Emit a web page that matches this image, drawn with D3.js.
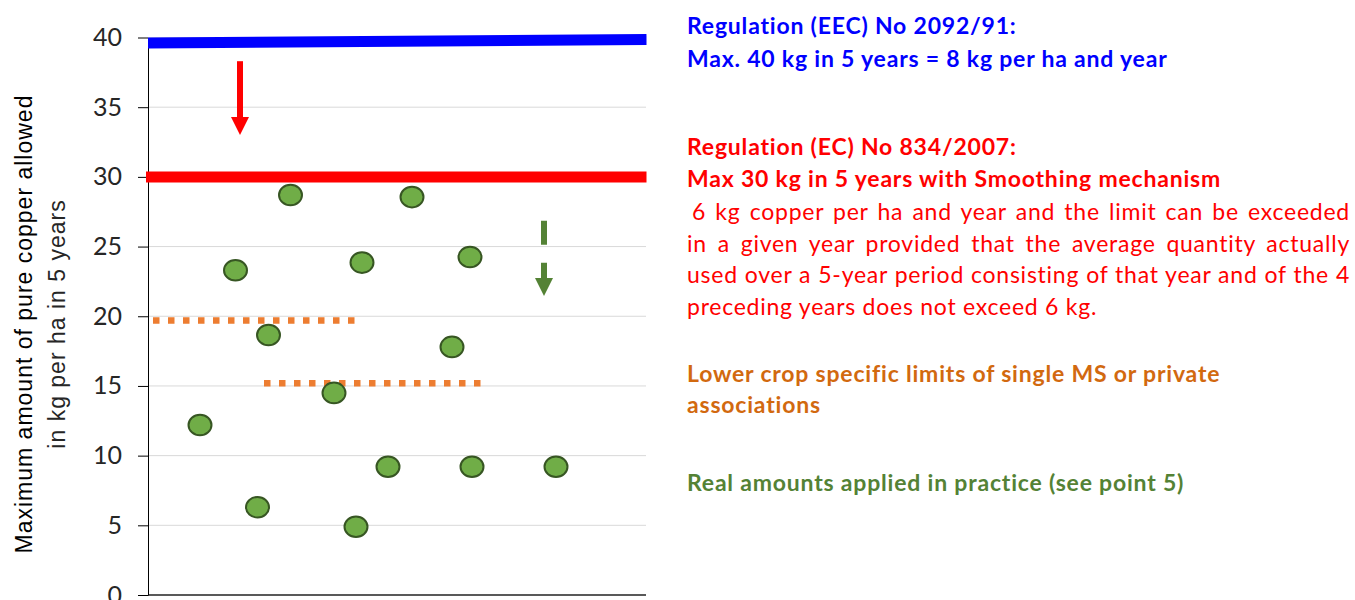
<!DOCTYPE html>
<html>
<head>
<meta charset="utf-8">
<script src="https://cdn.jsdelivr.net/npm/d3@7"></script>
<style>
  body { margin: 0; background: #fff; }
  svg { display: block; }
</style>
</head>
<body>
<div id="chart"></div>
<script>
// values
var yTicks = [0, 5, 10, 15, 20, 25, 30, 35, 40];
var pointX = [1.04, 1.75, 2.19, 2.41, 2.85, 3.72, 4.16, 4.28, 4.80, 5.28, 6.08, 6.44, 6.48, 8.16];
var pointY = [12.2, 23.3, 6.3, 18.65, 28.7, 14.5, 4.9, 23.85, 9.2, 28.55, 17.8, 24.25, 9.2, 9.2];
var euLimit1991 = [[0, 39.6], [9.97, 39.85]];
var euLimit2007 = [[-0.04, 30], [9.97, 30]];
var cropLimitA = [[0.1, 19.7], [4.14, 19.7]];
var cropLimitB = [[2.32, 15.2], [6.74, 15.2]];
var redArrow = [1.84, 38.3, 33.0];
var greenArrow = [7.92, 26.85, 21.45];

var yTitle = ["Maximum amount of pure copper allowed", "in kg per ha in 5 years"];
var notes = [
  {lines: ["Regulation (EEC) No 2092/91:", "Max. 40 kg in 5 years = 8 kg per ha and year"], color: "#0000ff", bold: true},
  {lines: ["Regulation (EC) No 834/2007:", "Max 30 kg in 5 years with Smoothing mechanism"], color: "#ff0000", bold: true},
  {lines: [" 6 kg copper per ha and year and the limit can be exceeded",
           "in a given year provided that the average quantity actually",
           "used over a 5-year period consisting of that year and of the 4",
           "preceding years does not exceed 6 kg."], color: "#ff0000", bold: false, justify: true},
  {lines: ["Lower crop specific limits of single MS or private", "associations"], color: "#d2690f", bold: true},
  {lines: ["Real amounts applied in practice (see point 5)"], color: "#548235", bold: true}
];

var W = 1355, H = 600;
var mLeft = 148, mRight = 648, mTop = 37.5, mBottom = 595;

var x = d3.scaleLinear().domain([0, 10]).range([mLeft, mRight]);
var y = d3.scaleLinear().domain([0, 40]).range([mBottom, mTop]);

var svg = d3.select("#chart").append("svg")
  .attr("width", W)
  .attr("height", H);

// grid
svg.append("g")
  .selectAll("line")
  .data(yTicks.filter(function(d) { return d > 0; }))
  .enter().append("line")
  .attr("x1", mLeft).attr("x2", 646)
  .attr("y1", function(d) { return y(d); })
  .attr("y2", function(d) { return y(d); })
  .attr("stroke", "#d9d9d9")
  .attr("stroke-width", 1);

// bottom line
svg.append("line")
  .attr("x1", mLeft).attr("x2", 646)
  .attr("y1", y(0)).attr("y2", y(0))
  .attr("stroke", "#595959")
  .attr("stroke-width", 2);

var yAxis = d3.axisLeft(y).tickValues(yTicks).tickSize(10).tickPadding(16).tickSizeOuter(0);
var ax = svg.append("g")
  .attr("transform", "translate(" + mLeft + ",0)")
  .call(yAxis);
ax.select(".domain").attr("stroke", "#000");
ax.selectAll(".tick line").attr("stroke", "#000");
ax.selectAll(".tick text")
  .attr("font-family", "Lato, sans-serif")
  .attr("font-size", 25)
  .attr("fill", "#262626");

// axis title
var title = svg.append("g")
  .attr("transform", "translate(0,324) rotate(-90)");
title.selectAll("text")
  .data(yTitle)
  .enter().append("text")
  .attr("x", 0)
  .attr("y", function(d, i) { return 32 + i * 33; })
  .attr("text-anchor", "middle")
  .attr("font-family", "Liberation Sans, Arial, sans-serif")
  .attr("font-size", 23)
  .attr("letter-spacing", 1)
  .attr("fill", function(d, i) { return i == 0 ? "#000" : "#262626"; })
  .text(function(d) { return d; });

var line = d3.line()
  .x(function(d) { return x(d[0]); })
  .y(function(d) { return y(d[1]); });

svg.append("path").datum(euLimit1991)
  .attr("d", line).attr("fill", "none")
  .attr("stroke", "#0000ff").attr("stroke-width", 11);

svg.append("path").datum(euLimit2007)
  .attr("d", line).attr("fill", "none")
  .attr("stroke", "#ff0000").attr("stroke-width", 11);

[cropLimitA, cropLimitB].forEach(function(d) {
  svg.append("path").datum(d)
    .attr("d", line).attr("fill", "none")
    .attr("stroke", "#ed7d31").attr("stroke-width", 6.5)
    .attr("stroke-dasharray", "6.5,8.5");
});

function arrow(a, color, dash) {
  var ax0 = x(a[0]), yTop = y(a[1]), yTip = y(a[2]);
  svg.append("line")
    .attr("x1", ax0).attr("x2", ax0)
    .attr("y1", yTop).attr("y2", yTip - 16)
    .attr("stroke", color).attr("stroke-width", 6)
    .attr("stroke-dasharray", dash || null);
  svg.append("path")
    .attr("d", "M" + (ax0 - 9) + "," + (yTip - 18) + "L" + (ax0 + 9) + "," + (yTip - 18) + "L" + ax0 + "," + yTip + "Z")
    .attr("fill", color);
}
arrow(redArrow, "#ff0000");
arrow(greenArrow, "#548235", "24,18");

// points
svg.append("g")
  .selectAll("ellipse")
  .data(pointX)
  .enter().append("ellipse")
  .attr("cx", function(d) { return x(d); })
  .attr("cy", function(d, i) { return y(pointY[i]); })
  .attr("rx", 11.5)
  .attr("ry", 10.3)
  .attr("fill", "#70ad47")
  .attr("stroke", "#375623")
  .attr("stroke-width", 2);

// notes on the right
var baselines = [[33.5, 66.5], [155, 187], [220, 251.7, 283.3, 315], [381.5, 412.5], [491]];
var textLeft = 687, textRight = 1350;
notes.forEach(function(n, k) {
  n.lines.forEach(function(t, i) {
    var lead = t.charAt(0) == " " ? 5 : 0;
    var el = svg.append("text")
      .attr("x", textLeft + lead)
      .attr("y", baselines[k][i])
      .attr("font-family", "Lato, sans-serif")
      .attr("font-size", 23)
      .attr("letter-spacing", n.bold ? 0.8 : 0.75)
      .attr("font-weight", n.bold ? 700 : 400)
      .attr("fill", n.color)
      .text(t.trim());
    if (n.justify && i < n.lines.length - 1) {
      var len = el.node().getComputedTextLength();
      var spaces = t.trim().split(" ").length - 1;
      el.attr("word-spacing", (textRight - textLeft - lead - len) / spaces);
    }
  });
});
</script>
</body>
</html>
